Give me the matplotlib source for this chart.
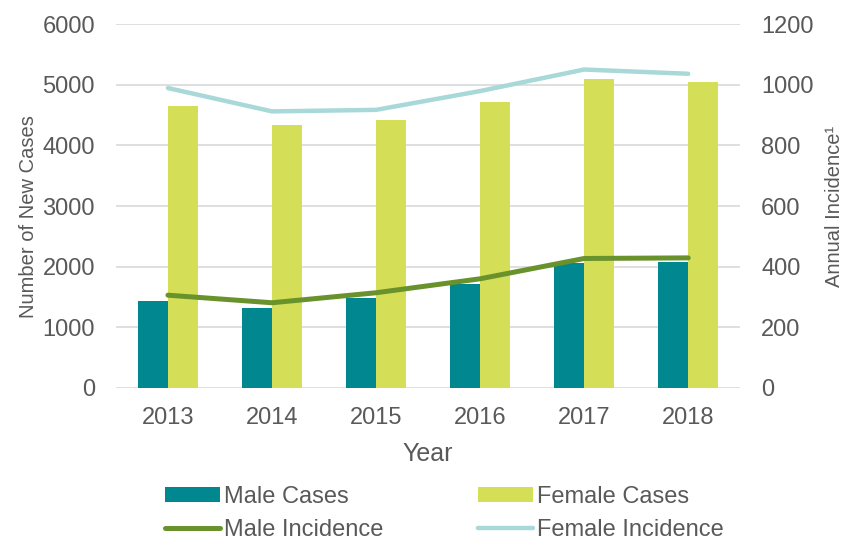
import matplotlib
matplotlib.use('Agg')
import matplotlib.pyplot as plt
import numpy as np

plt.rcParams['font.family'] = ['Liberation Sans', 'DejaVu Sans']

# ─── Data ─────────────────────────────────────────────────────────────────────
years = ['2013', '2014', '2015', '2016', '2017', '2018']
male_cases = [1440, 1320, 1485, 1710, 2065, 2075]
female_cases = [4650, 4330, 4410, 4710, 5100, 5045]
male_incidence = [306, 281, 314, 360, 427, 429]
female_incidence = [989, 912, 917, 979, 1050, 1036]

TEXT = '#595959'
GRID = '#d9d9d9'
C_MALE = '#00878f'
C_FEMALE = '#d4df57'
C_MALE_INC = '#6a922c'
C_FEMALE_INC = '#a8d8d8'

fig = plt.figure(figsize=(8.46, 5.4), dpi=100)
ax = fig.add_axes([0.137, 0.2815, 0.738, 0.674])
ax2 = ax.twinx()

x = np.arange(len(years))
w = 0.29
b1 = ax.bar(x - w / 2, male_cases, w, color=C_MALE, label='Male Cases', zorder=2)
b2 = ax.bar(x + w / 2, female_cases, w, color=C_FEMALE, label='Female Cases', zorder=2)

l1, = ax2.plot(x, male_incidence, color=C_MALE_INC, lw=3.6,
               solid_capstyle='round', label='Male Incidence')
l2, = ax2.plot(x, female_incidence, color=C_FEMALE_INC, lw=3.2,
               solid_capstyle='round', label='Female Incidence')

ax.set_xlim(-0.5, len(years) - 0.5)
ax.set_ylim(0, 6000)
ax.set_yticks(range(0, 6001, 1000))
ax2.set_ylim(0, 1200)
ax2.set_yticks(range(0, 1201, 200))
ax.set_xticks(x)
ax.set_xticklabels(years)

ax.grid(axis='y', color=GRID, lw=1.2, zorder=0)
ax.set_axisbelow(True)
for a in (ax, ax2):
    for sp in a.spines.values():
        sp.set_visible(False)
    a.tick_params(length=0, colors=TEXT, labelsize=17)
ax.tick_params(axis='x', pad=14)
ax.tick_params(axis='y', pad=15)
ax2.tick_params(axis='y', pad=15)

ax.set_xlabel('Year', color=TEXT, fontsize=18, labelpad=9)
ax.set_ylabel('Number of New Cases', color=TEXT, fontsize=14.5, labelpad=7)
ax.yaxis.set_label_coords(-0.125, 0.47)
ax2.set_ylabel('Annual Incidence¹', color=TEXT, fontsize=14.5, labelpad=8)

fig.legend([b1, l1, b2, l2],
           ['Male Cases', 'Male Incidence', 'Female Cases', 'Female Incidence'],
           ncol=2, loc='upper center', bbox_to_anchor=(0.525, 0.122),
           frameon=False, fontsize=17, labelcolor=TEXT,
           handlelength=2.35, handleheight=0.6, handletextpad=0.15,
           columnspacing=4.0, labelspacing=0.47, borderpad=0)

fig.savefig('out.png', dpi=100)
